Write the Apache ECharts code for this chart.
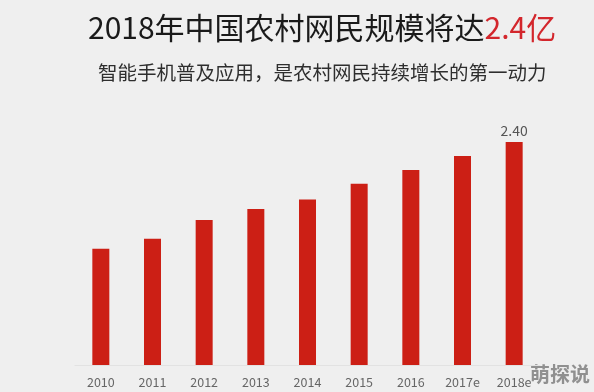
<!DOCTYPE html>
<html>
<head>
<meta charset="utf-8">
<script src="https://cdn.jsdelivr.net/npm/echarts@6/dist/echarts.min.js"></script>
<style>
html,body{margin:0;padding:0;background:#efefef;}
#c{width:594px;height:392px;}
</style>
</head>
<body>
<div id="c"></div>
<script>
const categories = ['2010','2011','2012','2013','2014','2015','2016','2017e','2018e'];
const values = [1.25, 1.36, 1.56, 1.68, 1.78, 1.95, 2.10, 2.25, 2.40];
const labeledIndex = 8;
const titleMain = '2018年中国农村网民规模将达';
const titleHighlight = '2.4亿';
const subtitle = '智能手机普及应用，是农村网民持续增长的第一动力';
const watermark = '萌探说';

const chart = echarts.init(document.getElementById('c'));
const font = '"Noto Sans CJK SC", "Noto Sans", sans-serif';
chart.setOption({
  backgroundColor: '#efefef',
  animation: false,
  title: [
    {
      text: '{a|' + titleMain + '}{b|' + titleHighlight + '}',
      left: 88, top: 13, padding: 0,
      textStyle: {
        rich: {
          a: {fontSize: 30, color: '#1a1a1a', fontFamily: font, fontWeight: 'normal'},
          b: {fontSize: 30, color: '#d3262c', fontFamily: font, fontWeight: 'normal'}
        }
      }
    },
    {
      text: subtitle,
      left: 98, top: 63, padding: 0,
      textStyle: {fontSize: 19.5, color: '#2e2e2e', fontFamily: font, fontWeight: 'normal'}
    }
  ],
  grid: {left: 75, right: 54, top: 142, bottom: 27},
  xAxis: {
    type: 'category',
    data: categories,
    axisLine: {show: true, lineStyle: {color: '#e2e2e2', width: 1}},
    axisTick: {show: false},
    axisLabel: {color: '#666', fontSize: 12.5, fontFamily: font, margin: 11}
  },
  yAxis: {
    type: 'value',
    min: 0, max: 2.4,
    show: false,
    splitLine: {show: false}
  },
  series: [{
    type: 'bar',
    barWidth: 17,
    itemStyle: {color: '#cc1f15'},
    data: values.map((v, i) => i === labeledIndex ? {
      value: v,
      label: {show: true, position: 'top', distance: 4, formatter: (p) => p.value.toFixed(2), color: '#555', fontSize: 14, fontFamily: font}
    } : v)
  }],
  graphic: [{
    type: 'text',
    right: 4, bottom: 8,
    style: {text: watermark, fontSize: 20, fontWeight: 'bold', fill: 'rgba(120,120,120,0.8)', fontFamily: font}
  }]
});
</script>
</body>
</html>
